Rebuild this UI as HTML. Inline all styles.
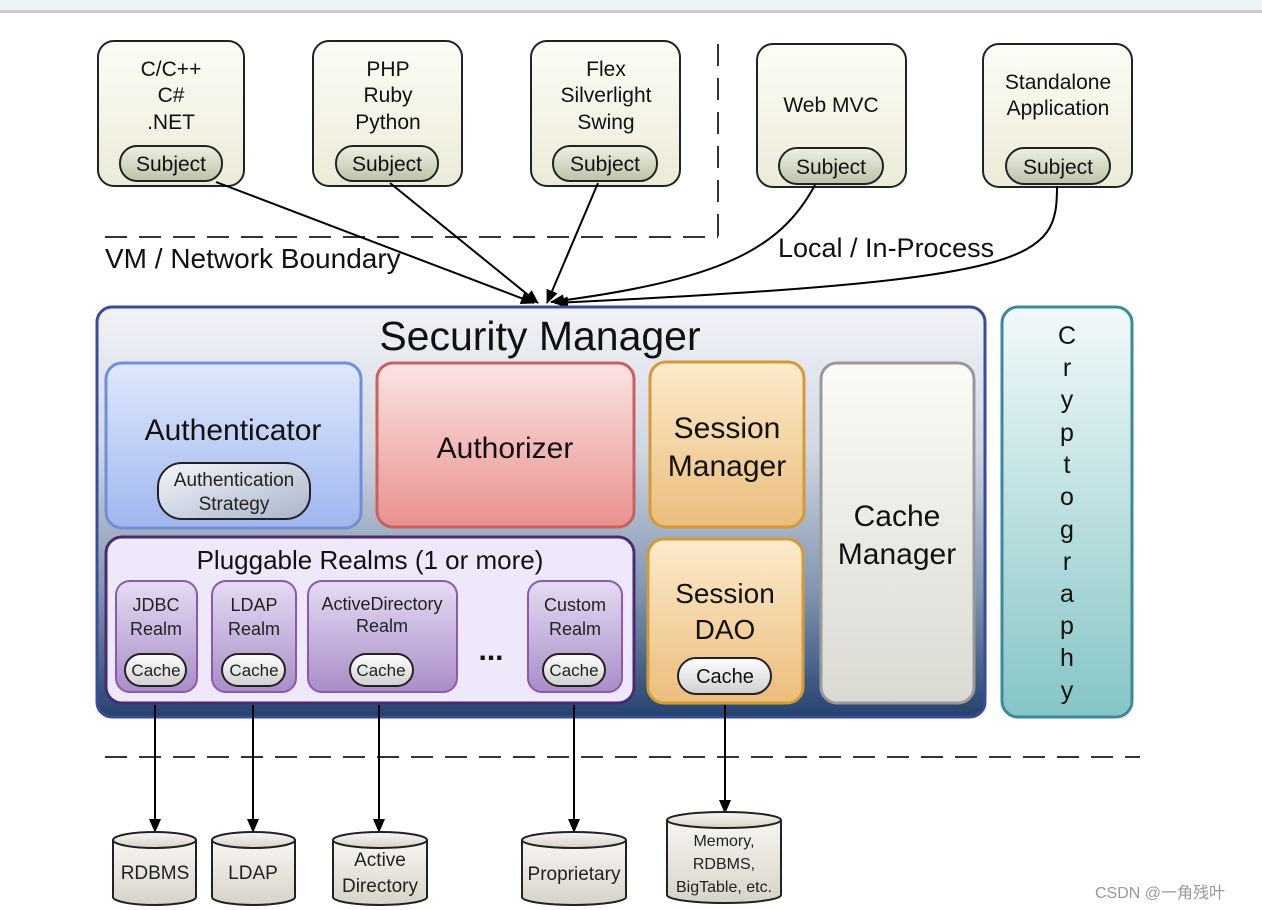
<!DOCTYPE html>
<html><head><meta charset="utf-8"><style>
html,body{margin:0;padding:0;background:#fff;}
svg{display:block;font-family:"Liberation Sans","Noto Sans CJK SC",sans-serif;}
</style></head><body>
<svg width="1262" height="910" viewBox="0 0 1262 910" xmlns="http://www.w3.org/2000/svg">
<defs>
<linearGradient id="top" x1="0" y1="0" x2="0" y2="1"><stop offset="0" stop-color="#fcfcf6"/><stop offset="1" stop-color="#ecebd8"/></linearGradient>
<linearGradient id="pill" x1="0" y1="0" x2="0" y2="1"><stop offset="0" stop-color="#eef0e2"/><stop offset="1" stop-color="#bcc2a8"/></linearGradient>
<linearGradient id="sm" x1="0" y1="0" x2="0" y2="1"><stop offset="0" stop-color="#f2f3f8"/><stop offset="0.35" stop-color="#d0d6e2"/><stop offset="0.7" stop-color="#7f93b0"/><stop offset="1" stop-color="#25426f"/></linearGradient>
<linearGradient id="auth" x1="0" y1="0" x2="0" y2="1"><stop offset="0" stop-color="#dfe8fc"/><stop offset="1" stop-color="#9fb6ee"/></linearGradient>
<linearGradient id="authz" x1="0" y1="0" x2="0" y2="1"><stop offset="0" stop-color="#fbe4e4"/><stop offset="1" stop-color="#e8918f"/></linearGradient>
<linearGradient id="sess" x1="0" y1="0" x2="0" y2="1"><stop offset="0" stop-color="#fcebcc"/><stop offset="1" stop-color="#ebbd7c"/></linearGradient>
<linearGradient id="cache" x1="0" y1="0" x2="0" y2="1"><stop offset="0" stop-color="#fbfbf7"/><stop offset="1" stop-color="#dadad3"/></linearGradient>
<linearGradient id="realm" x1="0" y1="0" x2="0" y2="1"><stop offset="0" stop-color="#e6dbf3"/><stop offset="1" stop-color="#a88dc8"/></linearGradient>
<linearGradient id="cry" x1="0" y1="0" x2="0" y2="1"><stop offset="0" stop-color="#f2f9fa"/><stop offset="1" stop-color="#86c5c6"/></linearGradient>
<linearGradient id="wp" x1="0" y1="0" x2="0" y2="1"><stop offset="0" stop-color="#ffffff"/><stop offset="1" stop-color="#cfcfcf"/></linearGradient>
<linearGradient id="strat" x1="0" y1="0" x2="1" y2="1"><stop offset="0" stop-color="#f4f6fb"/><stop offset="1" stop-color="#a9b4c9"/></linearGradient>
<linearGradient id="cyl" x1="0" y1="0" x2="0" y2="1"><stop offset="0" stop-color="#f7f6f1"/><stop offset="1" stop-color="#d6d3c8"/></linearGradient>
<marker id="ahb" markerWidth="14" markerHeight="14" refX="13" refY="6" orient="auto" markerUnits="userSpaceOnUse"><path d="M0,0 L14,6 L0,12 z" fill="#000"/></marker>
</defs>

<rect x="0" y="0" width="1262" height="11" fill="#eef2f5"/>
<rect x="0" y="10" width="1262" height="3" fill="#c8ccd0"/>

<!-- top client boxes -->
<g stroke="#222" stroke-width="2" fill="url(#top)">
<rect x="98" y="41" width="146" height="145" rx="16"/>
<rect x="313" y="41" width="149" height="145" rx="16"/>
<rect x="531" y="41" width="149" height="145" rx="16"/>
<rect x="757" y="44" width="149" height="143" rx="16"/>
<rect x="983" y="44" width="149" height="143" rx="16"/>
</g>
<g stroke="#222" stroke-width="2" fill="url(#pill)">
<rect x="120" y="146" width="102" height="35" rx="17"/>
<rect x="336" y="146" width="102" height="35" rx="17"/>
<rect x="553" y="146" width="104" height="35" rx="17"/>
<rect x="779" y="148" width="104" height="36" rx="18"/>
<rect x="1006" y="148" width="104" height="36" rx="18"/>
</g>
<g font-size="21" fill="#111" text-anchor="middle">
<text x="171" y="76">C/C++</text><text x="171" y="102">C#</text><text x="171" y="129">.NET</text>
<text x="388" y="76">PHP</text><text x="388" y="102">Ruby</text><text x="388" y="129">Python</text>
<text x="606" y="76">Flex</text><text x="606" y="102">Silverlight</text><text x="606" y="129">Swing</text>
<text x="831" y="112">Web MVC</text>
<text x="1058" y="89">Standalone</text><text x="1058" y="115">Application</text>
<text x="171" y="171">Subject</text><text x="387" y="171">Subject</text><text x="605" y="171">Subject</text>
<text x="831" y="174">Subject</text><text x="1058" y="174">Subject</text>
</g>

<!-- boundary -->
<g stroke="#333" stroke-width="2" stroke-dasharray="22,12" fill="none">
<path d="M105 237 H718"/>
<path d="M718 44 V237"/>
<path d="M105 757 H1140"/>
</g>
<text x="105" y="268" font-size="28" fill="#111">VM / Network Boundary</text>
<text x="778" y="257" font-size="27" fill="#111">Local / In-Process</text>

<!-- arrows to SM -->
<g stroke="#000" stroke-width="2" fill="none" marker-end="url(#ahb)">
<path d="M216 182 L534 303"/>
<path d="M390 183 L538 303"/>
<path d="M598 183 L547 303"/>
<path d="M815 185 C780 250 720 280 551 302"/>
<path d="M1057 186 C1057 260 1040 280 555 303"/>
</g>

<!-- Security Manager -->
<rect x="97" y="307" width="888" height="410" rx="15" fill="url(#sm)" stroke="#3a4b9c" stroke-width="3"/>
<text x="540" y="350" font-size="41" text-anchor="middle" fill="#111">Security Manager</text>

<rect x="106" y="363" width="255" height="165" rx="16" fill="url(#auth)" stroke="#6f8fd8" stroke-width="3"/>
<text x="233" y="440" font-size="30" text-anchor="middle" fill="#111">Authenticator</text>
<rect x="158" y="463" width="152" height="56" rx="24" fill="url(#strat)" stroke="#222" stroke-width="2"/>
<text x="234" y="486" font-size="19" text-anchor="middle" fill="#222">Authentication</text>
<text x="234" y="510" font-size="19" text-anchor="middle" fill="#222">Strategy</text>

<rect x="377" y="363" width="257" height="164" rx="16" fill="url(#authz)" stroke="#c9605e" stroke-width="3"/>
<text x="505" y="458" font-size="30" text-anchor="middle" fill="#111">Authorizer</text>

<rect x="650" y="362" width="154" height="165" rx="16" fill="url(#sess)" stroke="#d39a35" stroke-width="3"/>
<text x="727" y="438" font-size="30" text-anchor="middle" fill="#111">Session</text>
<text x="727" y="476" font-size="30" text-anchor="middle" fill="#111">Manager</text>

<rect x="821" y="363" width="153" height="340" rx="16" fill="url(#cache)" stroke="#999" stroke-width="3"/>
<text x="897" y="526" font-size="30" text-anchor="middle" fill="#111">Cache</text>
<text x="897" y="564" font-size="30" text-anchor="middle" fill="#111">Manager</text>

<rect x="648" y="539" width="155" height="164" rx="16" fill="url(#sess)" stroke="#d39a35" stroke-width="3"/>
<text x="725" y="603" font-size="28" text-anchor="middle" fill="#111">Session</text>
<text x="725" y="639" font-size="28" text-anchor="middle" fill="#111">DAO</text>
<rect x="678" y="658" width="93" height="36" rx="18" fill="url(#wp)" stroke="#222" stroke-width="2"/>
<text x="725" y="683" font-size="20" text-anchor="middle" fill="#111">Cache</text>

<rect x="106" y="537" width="528" height="166" rx="16" fill="#efe8fb" stroke="#4a2a72" stroke-width="3"/>
<text x="370" y="569" font-size="26" text-anchor="middle" fill="#111">Pluggable Realms (1 or more)</text>
<g fill="url(#realm)" stroke="#8a5bab" stroke-width="2">
<rect x="116" y="581" width="81" height="111" rx="14"/>
<rect x="212" y="581" width="84" height="111" rx="14"/>
<rect x="308" y="581" width="149" height="111" rx="14"/>
<rect x="528" y="581" width="94" height="111" rx="14"/>
</g>
<g font-size="18" text-anchor="middle" fill="#222">
<text x="156" y="611">JDBC</text><text x="156" y="635">Realm</text>
<text x="254" y="611">LDAP</text><text x="254" y="635">Realm</text>
<text x="382" y="610">ActiveDirectory</text><text x="382" y="632" >Realm</text>
<text x="575" y="611">Custom</text><text x="575" y="635">Realm</text>
</g>
<g fill="url(#wp)" stroke="#222" stroke-width="2">
<rect x="125" y="654" width="61" height="32" rx="16"/>
<rect x="222" y="654" width="63" height="32" rx="16"/>
<rect x="350" y="654" width="63" height="32" rx="16"/>
<rect x="543" y="654" width="62" height="32" rx="16"/>
</g>
<g font-size="17" text-anchor="middle" fill="#222">
<text x="156" y="676">Cache</text><text x="254" y="676">Cache</text><text x="381" y="676">Cache</text><text x="574" y="676">Cache</text>
</g>
<text x="491" y="660" font-size="30" font-weight="bold" text-anchor="middle" fill="#111">...</text>

<!-- Cryptography -->
<rect x="1002" y="307" width="130" height="410" rx="16" fill="url(#cry)" stroke="#3a8a9c" stroke-width="3"/>
<g font-size="25" text-anchor="middle" fill="#111">
<text x="1067" y="344">C</text><text x="1067" y="376">r</text><text x="1067" y="408">y</text><text x="1067" y="441">p</text>
<text x="1067" y="473">t</text><text x="1067" y="505">o</text><text x="1067" y="538">g</text><text x="1067" y="570">r</text>
<text x="1067" y="602">a</text><text x="1067" y="634">p</text><text x="1067" y="666">h</text><text x="1067" y="699">y</text>
</g>

<!-- bottom arrows -->
<g stroke="#000" stroke-width="2" fill="none" marker-end="url(#ahb)">
<path d="M155 705 V832"/>
<path d="M253 705 V832"/>
<path d="M379 705 V832"/>
<path d="M574 705 V832"/>
<path d="M725 705 V813"/>
</g>

<!-- cylinders -->
<g stroke="#222" stroke-width="2" fill="url(#cyl)">
<path d="M113 840 V897 A41.5 8 0 0 0 196 897 V840"/><ellipse cx="154.5" cy="840" rx="41.5" ry="8"/>
<path d="M212 840 V897 A41.5 8 0 0 0 295 897 V840"/><ellipse cx="253.5" cy="840" rx="41.5" ry="8"/>
<path d="M333 840 V897 A47 8 0 0 0 427 897 V840"/><ellipse cx="380" cy="840" rx="47" ry="8"/>
<path d="M522 840 V897 A52 8 0 0 0 626 897 V840"/><ellipse cx="574" cy="840" rx="52" ry="8"/>
<path d="M667 820 V895 A57 8 0 0 0 781 895 V820"/><ellipse cx="724" cy="820" rx="57" ry="8"/>
</g>
<g font-size="19" text-anchor="middle" fill="#222">
<text x="155" y="879">RDBMS</text>
<text x="253" y="879">LDAP</text>
<text x="380" y="866">Active</text><text x="380" y="892">Directory</text>
<text x="574" y="880">Proprietary</text>
</g>
<g font-size="16" text-anchor="middle" fill="#222">
<text x="724" y="846">Memory,</text><text x="724" y="869">RDBMS,</text><text x="724" y="892">BigTable, etc.</text>
</g>

<text x="1095" y="898" font-size="16" fill="#999">CSDN @一角残叶</text>
</svg>
</body></html>
